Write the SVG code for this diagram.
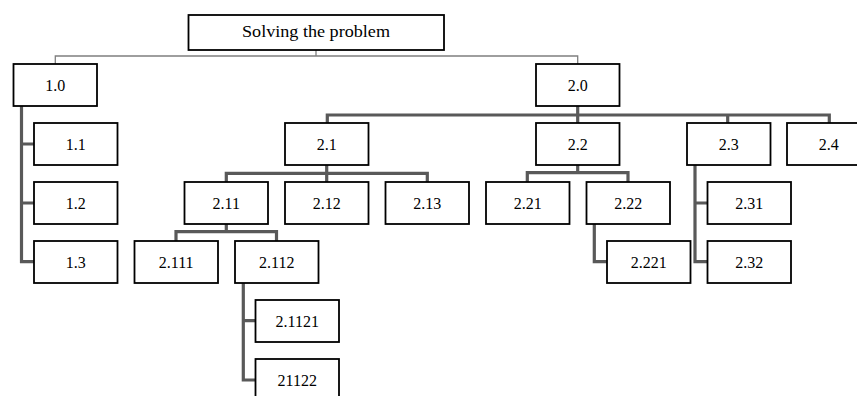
<svg xmlns="http://www.w3.org/2000/svg" width="857" height="396" viewBox="0 0 857 396">
<style>
.box{fill:#fff;stroke:#000;stroke-width:1.8}
.t{font-family:"Liberation Serif","Times New Roman",serif;font-size:16px;fill:#000;text-anchor:middle}
.thin{fill:none;stroke:#7f7f7f;stroke-width:1.3}
.thick{fill:none;stroke:#595959;stroke-width:3.2}
</style>
<rect width="857" height="396" fill="#fff"/>
<g id="connectors">
<path class="thin" d="M316,50V56M55.3,64V56H577.7V64"/>
<path class="thick" d="M21.5,106V261.7H34M21.5,144H34M21.5,203H34"/>
<path class="thick" d="M577.7,106V115M327.3,123V115H829.3V123M577.7,115V123M727.7,115V123"/>
<path class="thick" d="M326.7,165V173.3M226.3,182V173.3H427.3V182M326.7,173.3V182"/>
<path class="thick" d="M226.3,224V231.7M176,241V231.7H276.5V241"/>
<path class="thick" d="M243.3,283V380H255.5M243.3,320.7H255.5"/>
<path class="thick" d="M577.7,165V172.7M527.3,182V172.7H628V182"/>
<path class="thick" d="M594.3,224V261.7H607"/>
<path class="thick" d="M695,165V261.7H707.5M695,203H707.5"/>
</g>
<g id="root"><rect class="box" x="188.5" y="15" width="255.5" height="35"/><text class="t" x="316" y="37" textLength="148" lengthAdjust="spacingAndGlyphs">Solving the problem</text></g>
<g id="n1_0"><rect class="box" x="13.5" y="64" width="83.5" height="42"/><text class="t" x="55.3" y="90.5">1.0</text></g>
<g id="n2_0"><rect class="box" x="536" y="64" width="83.5" height="42"/><text class="t" x="577.7" y="90.5">2.0</text></g>
<g id="n1_1"><rect class="box" x="34" y="123" width="83.5" height="42"/><text class="t" x="75.7" y="149.5">1.1</text></g>
<g id="n1_2"><rect class="box" x="34" y="182" width="83.5" height="42"/><text class="t" x="75.7" y="208.5">1.2</text></g>
<g id="n1_3"><rect class="box" x="34" y="241" width="83.5" height="42"/><text class="t" x="75.7" y="267.5">1.3</text></g>
<g id="n2_1"><rect class="box" x="285" y="123" width="83.5" height="42"/><text class="t" x="326.7" y="149.5">2.1</text></g>
<g id="n2_2"><rect class="box" x="536" y="123" width="83.5" height="42"/><text class="t" x="577.7" y="149.5">2.2</text></g>
<g id="n2_3"><rect class="box" x="687" y="123" width="83.5" height="42"/><text class="t" x="728.7" y="149.5">2.3</text></g>
<g id="n2_4"><rect class="box" x="787" y="123" width="83.5" height="42"/><text class="t" x="828.7" y="149.5">2.4</text></g>
<g id="n2_11"><rect class="box" x="184.5" y="182" width="83.5" height="42"/><text class="t" x="226.3" y="208.5">2.11</text></g>
<g id="n2_12"><rect class="box" x="285" y="182" width="83.5" height="42"/><text class="t" x="326.7" y="208.5">2.12</text></g>
<g id="n2_13"><rect class="box" x="385.5" y="182" width="83.5" height="42"/><text class="t" x="427.3" y="208.5">2.13</text></g>
<g id="n2_21"><rect class="box" x="486" y="182" width="83.5" height="42"/><text class="t" x="527.7" y="208.5">2.21</text></g>
<g id="n2_22"><rect class="box" x="586.5" y="182" width="83.5" height="42"/><text class="t" x="628.2" y="208.5">2.22</text></g>
<g id="n2_31"><rect class="box" x="707.5" y="182" width="83.5" height="42"/><text class="t" x="749.2" y="208.5">2.31</text></g>
<g id="n2_32"><rect class="box" x="707.5" y="241" width="83.5" height="42"/><text class="t" x="749.2" y="267.5">2.32</text></g>
<g id="n2_111"><rect class="box" x="134.5" y="241" width="83.5" height="42"/><text class="t" x="176.2" y="267.5">2.111</text></g>
<g id="n2_112"><rect class="box" x="235" y="241" width="83.5" height="42"/><text class="t" x="276.7" y="267.5">2.112</text></g>
<g id="n2_221"><rect class="box" x="607" y="241" width="83.5" height="42"/><text class="t" x="648.7" y="267.5">2.221</text></g>
<g id="n2_1121"><rect class="box" x="255.5" y="300" width="83.5" height="42"/><text class="t" x="297.2" y="326.5">2.1121</text></g>
<g id="n21122"><rect class="box" x="255.5" y="359" width="83.5" height="42"/><text class="t" x="297.2" y="385.5">21122</text></g>
</svg>
